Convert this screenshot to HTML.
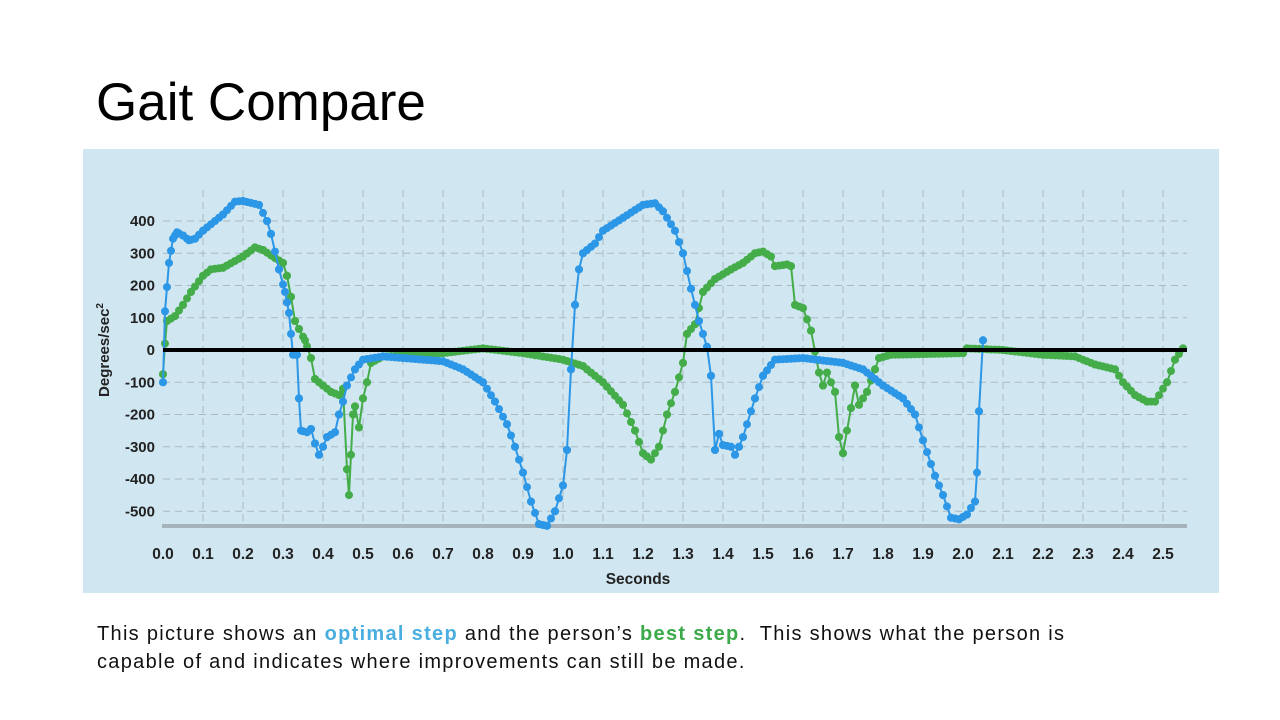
<!DOCTYPE html>
<html><head><meta charset="utf-8">
<style>
body{margin:0;width:1280px;height:720px;background:#fff;overflow:hidden;font-family:"Liberation Sans",sans-serif;position:relative}
#t{position:absolute;left:96px;top:72px;font-size:53px;color:#000}
#c{position:absolute;left:97px;top:620px;font-size:20px;letter-spacing:1.3px;line-height:28px;color:#111}
.o{color:#4aaee0;font-weight:bold}.g{color:#3daa4a;font-weight:bold}
svg{position:absolute;left:0;top:0}
</style></head><body>
<div id="t">Gait Compare</div>
<svg id="s" width="1280" height="720"></svg>
<div id="c">This picture shows an <span class="o">optimal step</span> and the person’s <span class="g">best step</span>.&nbsp; This shows what the person is<br>capable of and indicates where improvements can still be made.</div>
<script>
const X=t=>163+t*400, Y=v=>350-v*0.3225;
let h='<rect x="83" y="149" width="1136" height="444" fill="#d0e6f1"/>';
for(let i=1;i<=25;i++)h+=`<line x1="${X(i/10)}" y1="190" x2="${X(i/10)}" y2="526" stroke="#a9b9c3" stroke-width="1" stroke-dasharray="7,5"/>`;
for(let v=-500;v<=400;v+=100){h+=`<line x1="163" y1="${Y(v)}" x2="1187" y2="${Y(v)}" stroke="#a9b9c3" stroke-width="1" stroke-dasharray="7,5"/>`;
h+=`<text x="155" y="${Y(v)+5}" text-anchor="end" font-size="15" font-weight="bold" fill="#222">${v}</text>`;}
h+='<line x1="162" y1="526" x2="1187" y2="526" stroke="#a6b3ba" stroke-width="4"/>';
for(let i=0;i<=25;i++)h+=`<text x="${X(i/10)}" y="559" text-anchor="middle" font-size="15.5" font-weight="bold" fill="#222">${(i/10).toFixed(1)}</text>`;
h+='<text x="638" y="584" text-anchor="middle" font-size="15.5" font-weight="bold" fill="#222">Seconds</text>';
h+='<text transform="translate(109,350) rotate(-90)" text-anchor="middle" font-size="15" font-weight="bold" fill="#222">Degrees/sec<tspan font-size="10" dy="-6">2</tspan></text>';
const B=[[0,-100],[.005,120],[.015,270],[.025,345],[.035,365],[.05,355],[.065,340],[.08,345],[.1,370],[.15,420],[.18,460],[.2,462],[.24,450],[.26,400],[.27,360],[.29,250],[.305,180],[.315,115],[.325,-15],[.335,-15],[.34,-150],[.345,-250],[.36,-255],[.37,-245],[.38,-290],[.39,-325],[.4,-300],[.41,-270],[.43,-255],[.44,-200],[.45,-160],[.46,-110],[.48,-60],[.5,-30],[.55,-20],[.6,-25],[.7,-35],[.75,-60],[.8,-100],[.83,-160],[.86,-230],[.88,-300],[.9,-380],[.92,-470],[.94,-540],[.96,-545],[.98,-500],[1,-420],[1.01,-310],[1.02,-60],[1.03,140],[1.04,250],[1.05,300],[1.08,330],[1.1,370],[1.15,410],[1.2,450],[1.23,455],[1.25,430],[1.28,370],[1.3,300],[1.32,190],[1.34,90],[1.36,10],[1.37,-80],[1.38,-310],[1.39,-260],[1.4,-295],[1.42,-300],[1.43,-325],[1.44,-300],[1.45,-270],[1.48,-150],[1.5,-80],[1.53,-30],[1.6,-25],[1.7,-40],[1.75,-60],[1.8,-110],[1.85,-150],[1.88,-200],[1.9,-280],[1.93,-390],[1.95,-450],[1.97,-520],[1.99,-525],[2.01,-510],[2.03,-470],[2.035,-380],[2.04,-190],[2.05,30]];
const G=[[0,-75],[.005,20],[.01,90],[.03,105],[.05,140],[.07,180],[.1,230],[.12,250],[.15,255],[.2,290],[.23,318],[.25,310],[.28,285],[.3,270],[.31,230],[.32,165],[.33,90],[.34,65],[.355,30],[.37,-25],[.38,-90],[.4,-110],[.42,-130],[.44,-140],[.45,-120],[.46,-370],[.465,-450],[.475,-200],[.48,-175],[.49,-240],[.5,-150],[.51,-100],[.52,-40],[.55,-20],[.7,-10],[.8,5],[.9,-10],[1,-30],[1.05,-50],[1.1,-100],[1.15,-170],[1.18,-250],[1.2,-320],[1.22,-340],[1.24,-300],[1.26,-200],[1.28,-130],[1.3,-40],[1.31,50],[1.33,80],[1.35,180],[1.38,220],[1.42,250],[1.45,270],[1.48,300],[1.5,305],[1.52,290],[1.53,260],[1.56,265],[1.57,260],[1.58,140],[1.6,130],[1.62,60],[1.64,-70],[1.65,-110],[1.66,-70],[1.68,-130],[1.69,-270],[1.7,-320],[1.72,-180],[1.73,-110],[1.74,-170],[1.76,-130],[1.78,-60],[1.79,-25],[1.82,-15],[2,-10],[2.01,5],[2.1,0],[2.2,-15],[2.28,-20],[2.33,-45],[2.38,-60],[2.4,-100],[2.43,-140],[2.46,-160],[2.48,-160],[2.51,-100],[2.53,-30],[2.55,5]];
function ser(K,col){
 let pts=K.map(p=>X(p[0]).toFixed(1)+','+Y(p[1]).toFixed(1)).join(' ');
 let s=`<polyline points="${pts}" fill="none" stroke="${col}" stroke-width="2"/>`;
 const end=K[K.length-1][0];
 for(let t=0;t<=end+1e-9;t+=0.01){let j=0;while(j<K.length-2&&K[j+1][0]<t)j++;
  const a=K[j],b=K[j+1];const f=Math.min(1,Math.max(0,(t-a[0])/(b[0]-a[0])));
  s+=`<circle cx="${X(t).toFixed(1)}" cy="${Y(a[1]+(b[1]-a[1])*f).toFixed(1)}" r="4" fill="${col}"/>`;}
 K.forEach(p=>s+=`<circle cx="${X(p[0]).toFixed(1)}" cy="${Y(p[1]).toFixed(1)}" r="4" fill="${col}"/>`);
 return s;}
h+=ser(G,'#44ad4a');
h+=ser(B,'#2b97e6');
h+='<line x1="163" y1="350" x2="1187" y2="350" stroke="#000" stroke-width="4"/>';
document.getElementById('s').innerHTML=h;
</script>
</body></html>
